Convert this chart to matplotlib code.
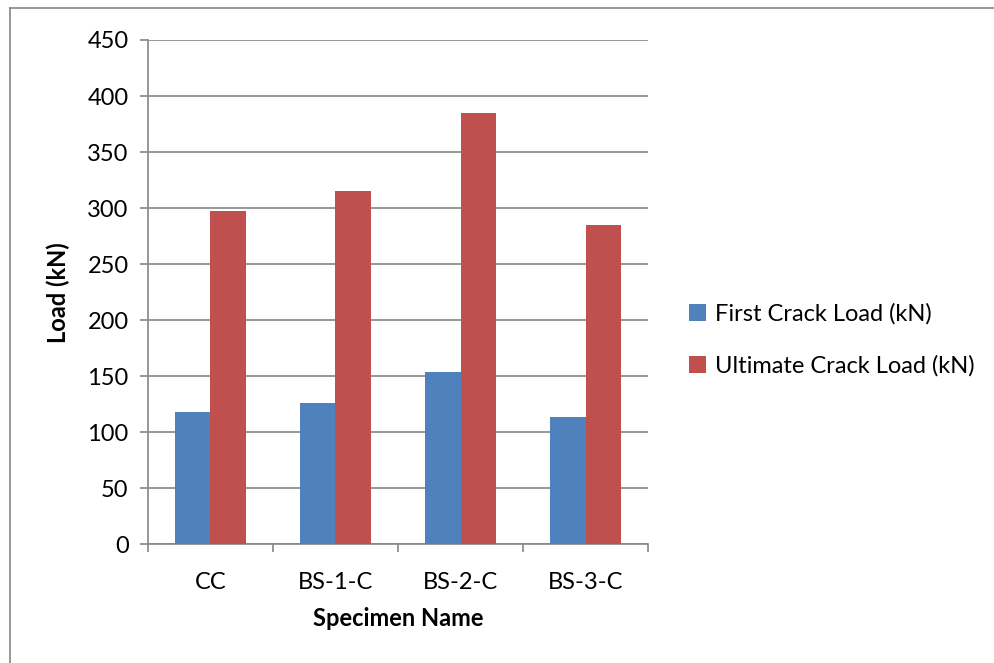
import numpy as np
import matplotlib.pyplot as plt
from matplotlib.lines import Line2D

plt.rcParams["font.family"] = ["Lato", "DejaVu Sans"]

specimens = ["CC", "BS-1-C", "BS-2-C", "BS-3-C"]
first_crack = [118, 126, 154, 114]
ultimate_crack = [297, 315, 385, 285]
series_names = ["First Crack Load (kN)", "Ultimate Crack Load (kN)"]
y_ticks = [0, 50, 100, 150, 200, 250, 300, 350, 400, 450]

blue = "#4F81BD"
red = "#C0504D"
grey = "#868686"
fs = 17

fig = plt.figure(figsize=(9.95, 6.63), dpi=100)
ax = fig.add_axes([0.1487, 0.179, 0.5026, 0.7607])

x = np.arange(len(specimens))
w = 0.285
ax.bar(x - w / 2, first_crack, w, color=blue, label=series_names[0], zorder=3)
ax.bar(x + w / 2, ultimate_crack, w, color=red, label=series_names[1], zorder=3)

ax.set_xlim(-0.5, len(specimens) - 0.5)
ax.set_ylim(0, 450)
ax.set_yticks(y_ticks)
ax.yaxis.grid(True, color=grey, linewidth=1.2, zorder=0)

# category boundary ticks, labels centred in between
ax.set_xticks(np.arange(len(specimens) + 1) - 0.5)
ax.set_xticklabels([])
ax.set_xticks(x, minor=True)
ax.set_xticklabels(specimens, minor=True, fontsize=fs)
ax.tick_params(axis="x", which="major", direction="out", length=6, color=grey, width=1.2)
ax.tick_params(axis="x", which="minor", length=0, pad=20)
ax.tick_params(axis="y", direction="out", length=6, color=grey, width=1.2, labelsize=fs, pad=8)

for side in ["top", "right"]:
    ax.spines[side].set_visible(False)
for side in ["left", "bottom"]:
    ax.spines[side].set_color(grey)
    ax.spines[side].set_linewidth(1.2)

ax.set_xlabel("Specimen Name", fontsize=fs, fontweight="bold", labelpad=10)
ax.set_ylabel("Load (kN)", fontsize=fs, fontweight="bold", labelpad=12)

ax.legend(loc="center left", bbox_to_anchor=(1.04, 0.405), frameon=False,
          fontsize=fs, handlelength=0.7, handleheight=0.7, handletextpad=0.4,
          labelspacing=1.3)

# chart area outline
fig.add_artist(Line2D([0.01, 0.01], [0.0, 0.988], color=grey, linewidth=1.2))
fig.add_artist(Line2D([0.01, 1.0], [0.988, 0.988], color=grey, linewidth=1.2))

fig.savefig("out.png", dpi=100)
